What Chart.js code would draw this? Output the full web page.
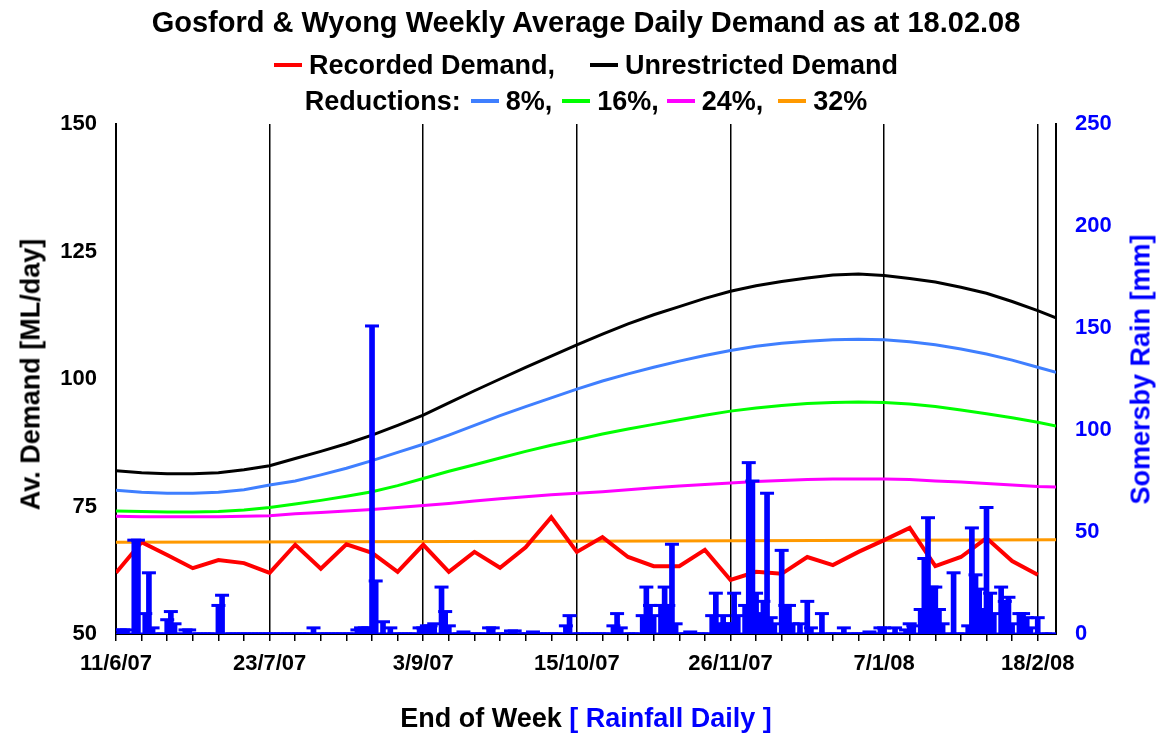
<!DOCTYPE html>
<html>
<head>
<meta charset="utf-8">
<script src="https://cdn.jsdelivr.net/npm/chart.js@4.4.1/dist/chart.umd.min.js"></script>
<style>
  html, body { margin: 0; padding: 0; background: #fff; }
  #wrap { position: relative; width: 1163px; height: 733px; overflow: hidden;
          font-family: "Liberation Sans", Arial, sans-serif; font-weight: bold; color: #000; }
  #chart { position: absolute; left: 0; top: 0; }
  .row { position: absolute; left: 0; width: 1172px; text-align: center; white-space: nowrap; }
  .key { display: inline-block; width: 28px; height: 4px; vertical-align: middle; margin: 0 7px 0 0; position: relative; top: -2px; }
  .vtitle { position: absolute; width: 400px; text-align: center; white-space: nowrap;
            font-size: 27px; line-height: 27px; transform: rotate(-90deg); transform-origin: 50% 50%; }
</style>
</head>
<body>
<div id="wrap">
  <canvas id="chart" width="1163" height="733"></canvas>
  <div class="row" style="top:8px;font-size:29px;line-height:29px;">Gosford &amp; Wyong Weekly Average Daily Demand as at 18.02.08</div>
  <div class="row" style="top:52px;font-size:27px;line-height:27px;">
    <span class="key" style="background:#FF0000"></span>Recorded Demand,<span class="key" style="background:#000;margin-left:35px"></span>Unrestricted Demand
  </div>
  <div class="row" style="top:88px;font-size:27px;line-height:27px;">
    Reductions:<span class="key" style="background:#3F7FFF;margin-left:10px"></span>8%,<span class="key" style="background:#00FF00;margin-left:10px"></span>16%,<span class="key" style="background:#FF00FF;margin-left:8px"></span>24%,<span class="key" style="background:#FF9900;margin-left:15px"></span>32%
  </div>
  <div class="row" style="top:705px;font-size:27px;line-height:27px;">End of Week <span style="color:#0000FF">[ Rainfall Daily ]</span></div>
  <div class="vtitle" style="left:-169px;top:361px;">Av. Demand [ML/day]</div>
  <div class="vtitle" style="left:941px;top:356px;color:#0000FF;">Somersby Rain [mm]</div>
</div>
<script>
// days counted from 11/6/07
const weekDays = [0, 7, 14, 21, 28, 35, 42, 49, 56, 63, 70, 77, 84, 91, 98, 105, 112, 119, 126,
  133, 140, 147, 154, 161, 168, 175, 182, 189, 196, 203, 210, 217, 224, 231, 238, 245, 252];
const labelDays = [0, 42, 84, 126, 168, 210, 252];
const tickLabels = ["11/6/07", "23/7/07", "3/9/07", "15/10/07", "26/11/07", "7/1/08", "18/2/08"];

const recorded = [62.0, 68.0, 65.5, 62.9, 64.5, 63.9, 62.0, 67.5, 62.8, 67.6, 65.9, 62.2, 67.5,
  62.2, 66.1, 63.0, 67.0, 72.9, 66.1, 69.0, 65.1, 63.3, 63.3, 66.5, 60.6, 62.2, 61.8, 65.1,
  63.5, 66.1, 68.4, 70.8, 63.3, 65.1, 68.8, 64.3, 61.6];

const curveDays = [0, 7, 14, 21, 28, 35, 42, 49, 56, 63, 70, 77, 84, 91, 98, 105, 112, 119, 126,
  133, 140, 147, 154, 161, 168, 175, 182, 189, 196, 203, 210, 217, 224, 231, 238, 245, 252, 257];
const unrestricted = [82.0, 81.6, 81.4, 81.4, 81.6, 82.2, 83.0, 84.4, 85.8, 87.3, 89.0, 90.9, 92.9,
  95.3, 97.7, 100.0, 102.3, 104.5, 106.7, 108.8, 110.8, 112.6, 114.2, 115.8, 117.2, 118.3, 119.1,
  119.8, 120.4, 120.6, 120.3, 119.7, 119.0, 118.0, 116.8, 115.2, 113.4, 112.0];
const reduction8 = [78.2, 77.8, 77.6, 77.6, 77.8, 78.3, 79.2, 80.0, 81.2, 82.5, 84.0, 85.6, 87.2,
  89.0, 90.9, 92.8, 94.6, 96.3, 98.0, 99.6, 101.0, 102.3, 103.5, 104.6, 105.6, 106.4, 107.0,
  107.4, 107.7, 107.8, 107.7, 107.3, 106.7, 105.9, 104.9, 103.7, 102.3, 101.3];
const reduction16 = [74.1, 74.0, 73.9, 73.9, 74.0, 74.3, 74.8, 75.5, 76.2, 77.0, 77.9, 79.1, 80.5,
  81.9, 83.2, 84.5, 85.8, 87.0, 88.1, 89.2, 90.2, 91.1, 92.0, 92.9, 93.7, 94.3, 94.8, 95.2,
  95.4, 95.5, 95.4, 95.1, 94.6, 93.9, 93.2, 92.4, 91.5, 90.8];
const reduction24 = [73.1, 73.0, 73.0, 73.0, 73.0, 73.1, 73.2, 73.6, 73.8, 74.1, 74.4, 74.8, 75.2,
  75.6, 76.1, 76.5, 76.9, 77.3, 77.6, 77.9, 78.3, 78.7, 79.0, 79.3, 79.6, 79.9, 80.1, 80.3,
  80.4, 80.4, 80.4, 80.3, 80.0, 79.8, 79.5, 79.2, 78.9, 78.8];
const orangeDays = [0, 126, 257];
const reduction32 = [68.0, 68.2, 68.5];

// Somersby daily rain (mm), only wet days listed
const rainDays = [1, 2, 3, 5, 6, 8, 9, 10, 14, 15, 16, 19, 20, 28, 29, 54, 66, 67, 68, 69, 70, 71,
  73, 75, 83, 84, 85, 86, 87, 89, 90, 91, 95, 102, 103, 108, 109, 114, 123, 124, 136, 137, 138,
  144, 145, 146, 147, 149, 150, 151, 152, 153, 157, 163, 164, 165, 166, 167, 168, 169, 170,
  172, 173, 174, 175, 176, 177, 178, 179, 180, 182, 183, 184, 185, 187, 189, 190, 193, 199,
  206, 209, 210, 213, 216, 217, 218, 220, 221, 222, 223, 224, 225, 226, 229, 233, 234, 235,
  236, 237, 238, 239, 240, 242, 243, 244, 245, 247, 248, 249, 250, 252];
const rainMm = [2, 2, 2, 46, 46, 10, 30, 3, 7, 11, 5, 2, 2, 14, 19, 3, 2, 3, 3, 3, 151, 26,
  6, 3, 3, 3, 4, 4, 5, 23, 11, 4, 1, 3, 3, 1.5, 1.5, 1, 4, 9, 4, 10, 3,
  9, 23, 14, 9, 14, 23, 14, 44, 5, 1, 9, 20, 5, 9, 5, 5, 20, 9,
  14, 84, 75, 20, 10, 16, 69, 8, 5, 41, 14, 14, 5, 5, 16, 3, 10, 3,
  1, 3, 3, 3, 2, 5, 4, 12, 37, 57, 23, 23, 12, 5, 30, 4, 52, 29,
  22, 12, 62, 20, 10, 23, 16, 18, 5, 10, 10, 8, 3, 8];

const FONT = "'Liberation Sans', Arial, sans-serif";

function pairs(xs, ys) {
  return xs.map((x, i) => ({ x, y: ys[i] }));
}

// every day of the record gets a cap marker, dry days sit on the zero line
const rainDaily = [];
for (let d = 0; d <= 256; d++) {
  const i = rainDays.indexOf(d);
  rainDaily.push({ x: d, y: i >= 0 ? rainMm[i] : 0 });
}

function lineSet(data, color, width, order) {
  return {
    type: "line",
    data,
    borderColor: color,
    borderWidth: width,
    pointRadius: 0,
    tension: 0,
    yAxisID: "y",
    order
  };
}

new Chart(document.getElementById("chart"), {
  type: "line",
  data: {
    datasets: [
      {
        type: "line",
        data: rainDaily,
        showLine: false,
        pointStyle: "line",
        pointRadius: 7,
        pointBorderWidth: 3,
        pointBorderColor: "#0000FF",
        yAxisID: "y2",
        order: 0
      },
      {
        type: "bar",
        data: pairs(rainDays, rainMm),
        backgroundColor: "#0000FF",
        barThickness: 5,
        yAxisID: "y2",
        order: 1
      },
      lineSet(pairs(weekDays, recorded), "#FF0000", 4, 2),
      lineSet(pairs(orangeDays, reduction32), "#FF9900", 3, 3),
      lineSet(pairs(curveDays, reduction24), "#FF00FF", 3, 4),
      lineSet(pairs(curveDays, reduction16), "#00FF00", 3, 5),
      lineSet(pairs(curveDays, reduction8), "#3F7FFF", 3, 6),
      lineSet(pairs(curveDays, unrestricted), "#000000", 3, 7)
    ]
  },
  options: {
    responsive: false,
    animation: false,
    layout: { padding: { top: 124, left: 0, right: 0, bottom: 0 } },
    plugins: { legend: { display: false }, tooltip: { enabled: false } },
    scales: {
      x: {
        type: "linear",
        min: 0,
        max: 257,
        offset: false,
        afterBuildTicks: s => { s.ticks = weekDays.map(v => ({ value: v })); },
        afterFit: s => { s.height = 99; },
        ticks: {
          autoSkip: false,
          maxRotation: 0,
          padding: 10,
          color: "#000",
          font: { family: FONT, size: 22, weight: "bold" },
          callback: v => {
            const i = labelDays.indexOf(v);
            return i >= 0 ? tickLabels[i] : "";
          }
        },
        grid: {
          offset: false,
          color: ctx => (ctx.tick && labelDays.includes(ctx.tick.value) ? "#000" : "rgba(0,0,0,0)"),
          lineWidth: 1.5,
          tickColor: "#000",
          tickLength: 7,
          tickWidth: 1.5
        },
        border: { color: "#000", width: 2 }
      },
      y: {
        position: "left",
        min: 50,
        max: 150,
        afterFit: s => { s.width = 116; },
        ticks: { stepSize: 25, padding: 19, color: "#000", font: { family: FONT, size: 22, weight: "bold" } },
        grid: { display: false, drawTicks: false },
        border: { color: "#000", width: 2 }
      },
      y2: {
        position: "right",
        min: 0,
        max: 250,
        afterFit: s => { s.width = 107; },
        ticks: { stepSize: 50, padding: 19, color: "#0000FF", font: { family: FONT, size: 22, weight: "bold" } },
        grid: { display: false, drawTicks: false },
        border: { color: "#000", width: 2 }
      }
    }
  }
});
</script>
</body>
</html>
